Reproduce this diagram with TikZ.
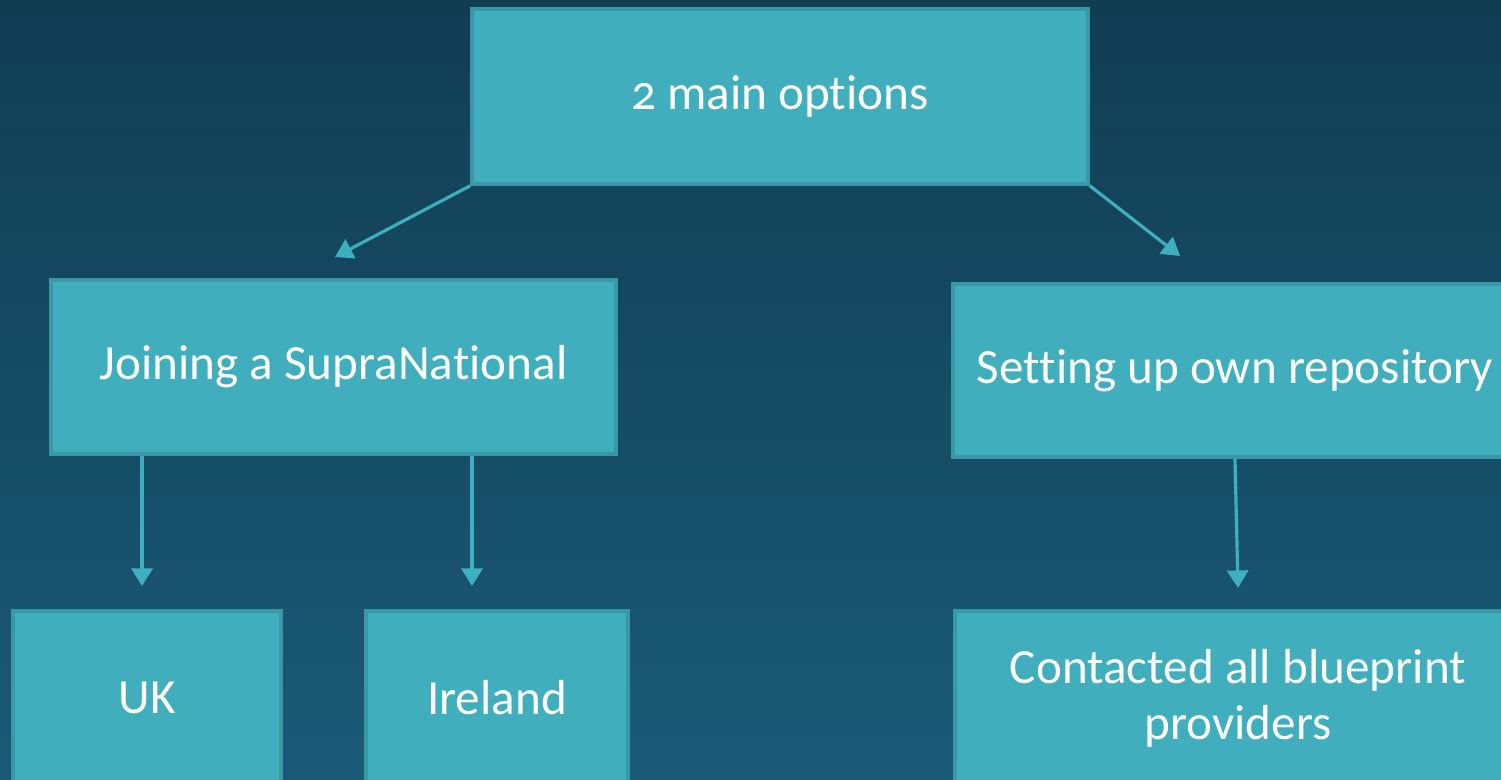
\documentclass[tikz,border=0pt]{standalone}
\usepackage{fontspec}
\setmainfont[Ligatures=NoCommon,Numbers=OldStyle]{Carlito}
\usetikzlibrary{arrows.meta}
\definecolor{bgtop}{HTML}{113D53}
\definecolor{bgbot}{HTML}{1A5A76}
\definecolor{boxfill}{HTML}{40AEBD}
\definecolor{boxline}{HTML}{3A97A5}
\definecolor{arrowc}{HTML}{3EAFBF}
\begin{document}
\begin{tikzpicture}[
    box/.style={draw=boxline,line width=1pt,fill=boxfill,text=white,
      font=\fontsize{14}{16}\selectfont,align=center,inner sep=0pt},
    link/.style={arrowc,line width=.9pt,-{Triangle[width=6pt,length=5pt]}}]
    \useasboundingbox (0,0) rectangle (15.01,-7.80);
    \clip (0,0) rectangle (15.01,-7.80);
    \shade[top color=bgtop,bottom color=bgbot] (0,0) rectangle (15.01,-7.80);
    \node[box,minimum width=6.16cm,minimum height=1.75cm] (top) at (7.80,-.965) {2 main options};
    \node[box,minimum width=5.65cm,minimum height=1.74cm] (join) at (3.335,-3.67) {Joining a SupraNational};
    \node[box,minimum width=5.64cm,minimum height=1.73cm] (repo) at (12.35,-3.705) {Setting up own repository};
    \node[box,minimum width=2.68cm,minimum height=1.74cm] (uk) at (1.47,-6.98) {UK};
    \node[box,minimum width=2.62cm,minimum height=1.74cm] (ire) at (4.97,-6.98) {Ireland};
    \node[box,minimum width=5.66cm,minimum height=1.74cm] (cont) at (12.38,-6.98) {Contacted all blueprint\\providers};
    \coordinate (a1) at (3.35,-2.57);
    \coordinate (a2) at (11.80,-2.56);
    \coordinate (a3) at (1.42,-5.86);
    \coordinate (a4) at (4.72,-5.86);
    \coordinate (a5) at (12.38,-5.88);
    \draw[link] (top.south west)--(a1);
    \draw[link] (top.south east)--(a2);
    \foreach \c in {a3,a4}{
    \draw[link] (join.south -| \c)--(\c);}
    \draw[link] (repo.south)--(a5);
\end{tikzpicture}
\end{document}
